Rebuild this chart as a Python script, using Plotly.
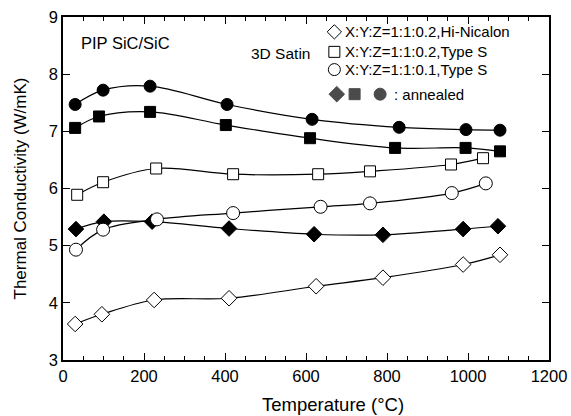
import plotly.graph_objects as go

# Data (Temperature °C, Thermal conductivity W/mK)
circ_filled_x = [30, 99, 215, 405, 615, 830, 995, 1079]
circ_filled_y = [7.47, 7.72, 7.79, 7.47, 7.21, 7.07, 7.03, 7.02]

sq_filled_x = [30, 89, 215, 402, 610, 820, 994, 1079]
sq_filled_y = [7.06, 7.26, 7.34, 7.11, 6.88, 6.71, 6.71, 6.65]

sq_open_x = [35, 99, 230, 420, 630, 758, 958, 1037]
sq_open_y = [5.89, 6.11, 6.35, 6.25, 6.25, 6.30, 6.42, 6.53]

circ_open_x = [32, 99, 232, 420, 636, 758, 960, 1044]
circ_open_y = [4.93, 5.28, 5.46, 5.57, 5.68, 5.74, 5.92, 6.09]

dia_filled_x = [32, 101, 220, 410, 620, 790, 988, 1074]
dia_filled_y = [5.29, 5.42, 5.42, 5.30, 5.20, 5.19, 5.29, 5.34]

dia_open_x = [30, 96, 225, 410, 625, 790, 988, 1079]
dia_open_y = [3.63, 3.80, 4.05, 4.08, 4.29, 4.44, 4.67, 4.84]

legend_labels = ["X:Y:Z=1:1:0.2,Hi-Nicalon", "X:Y:Z=1:1:0.2,Type S", "X:Y:Z=1:1:0.1,Type S"]
annealed_label = ": annealed"

series = [
    (dia_open_x, dia_open_y, "diamond", "white", 12),
    (dia_filled_x, dia_filled_y, "diamond", "black", 12),
    (circ_open_x, circ_open_y, "circle", "white", 13),
    (sq_open_x, sq_open_y, "square", "white", 11),
    (sq_filled_x, sq_filled_y, "square", "black", 11),
    (circ_filled_x, circ_filled_y, "circle", "black", 12),
]

fig = go.Figure()
for xs, ys, sym, fill, size in series:
    fig.add_trace(go.Scatter(
        x=xs, y=ys, mode="lines+markers",
        line=dict(color="black", width=1.2, shape="spline", smoothing=1.0),
        marker=dict(symbol=sym, size=size, color=fill, line=dict(color="black", width=1)),
        showlegend=False,
    ))

# legend key symbols (drawn manually, like the original inset key)
key_rows_y = [8.74, 8.39, 8.08]
key_syms = ["diamond", "square", "circle"]
key_sizes = [11, 11, 12]
for yy, sym, sz in zip(key_rows_y, key_syms, key_sizes):
    fig.add_trace(go.Scatter(x=[670], y=[yy], mode="markers", showlegend=False,
                             cliponaxis=False, hoverinfo="skip",
                             marker=dict(symbol=sym, size=sz, color="white",
                                         line=dict(color="black", width=1))))
fig.add_trace(go.Scatter(x=[676, 720, 783], y=[7.65, 7.65, 7.65], mode="markers",
                         showlegend=False, cliponaxis=False, hoverinfo="skip",
                         marker=dict(symbol=["diamond", "square", "circle"], size=[12, 11, 12],
                                     color="black", line=dict(color="black", width=1))))

font = "Liberation Sans, Arial, sans-serif"
ann = [
    dict(x=40, y=8.54, text="PIP SiC/SiC", xanchor="left", font=dict(size=16.5)),
    dict(x=538, y=8.37, text="3D Satin", xanchor="center", font=dict(size=15.5)),
]
for yy, lab in zip(key_rows_y, legend_labels):
    ann.append(dict(x=692, y=yy, text=lab, xanchor="left", font=dict(size=15)))
ann.append(dict(x=812, y=7.65, text=annealed_label, xanchor="left", font=dict(size=15)))
for a in ann:
    a.update(xref="x", yref="y", showarrow=False, yanchor="middle")
    a["font"].update(family=font, color="black")
# x-axis title (offset to the right of centre, as in the original)
ann.append(dict(x=0.556, y=-0.131, xref="paper", yref="paper", yanchor="middle",
                xanchor="center", showarrow=False, text="Temperature (°C)",
                font=dict(family=font, size=18.5, color="black")))

fig.update_layout(
    width=571, height=416,
    margin=dict(l=63, r=22, t=17, b=56),
    plot_bgcolor="white", paper_bgcolor="white",
    font=dict(family=font, size=16.5, color="black"),
    annotations=ann,
)
fig.update_xaxes(
    range=[0, 1200], dtick=200, tick0=0, automargin=False,
    showgrid=False, zeroline=False,
    showline=True, linecolor="black", linewidth=1.5, mirror="ticks",
    ticks="inside", ticklen=7, tickcolor="black",
    minor=dict(dtick=50, ticks="inside", ticklen=4, tickcolor="black", showgrid=False),
)
fig.update_yaxes(
    range=[3, 9], dtick=1, automargin=False,
    showgrid=False, zeroline=False,
    showline=True, linecolor="black", linewidth=1.5, mirror="ticks",
    ticks="inside", ticklen=7, tickcolor="black",
    title=dict(text="Thermal Conductivity (W/mK)", standoff=18, font=dict(size=17)),
)
fig.write_html("out.html", config={"displayModeBar": False},
               post_script="document.body.style.margin='0';document.body.style.overflow='hidden';")
